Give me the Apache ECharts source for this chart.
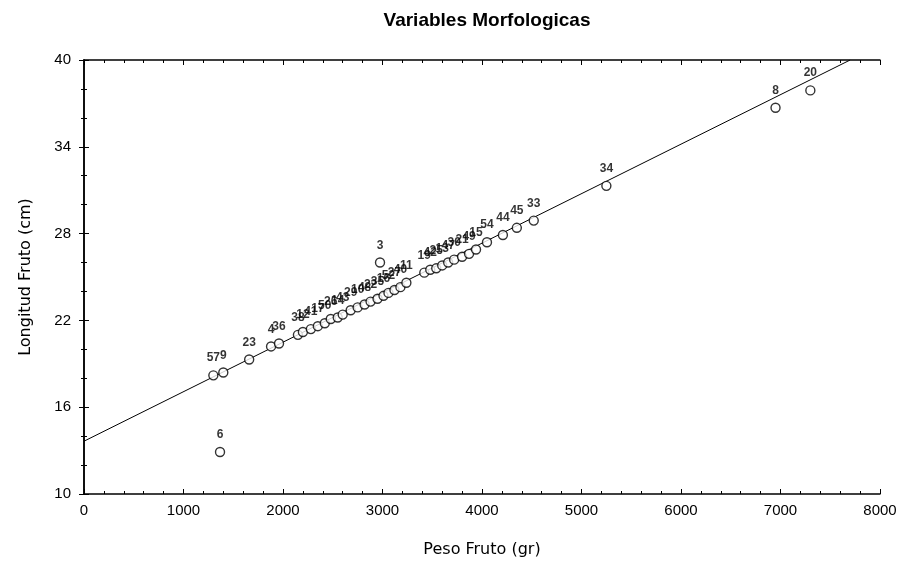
<!DOCTYPE html>
<html>
<head>
<meta charset="utf-8">
<script src="https://cdn.jsdelivr.net/npm/echarts@6/dist/echarts.min.js"></script>
<style>html,body{margin:0;padding:0;background:#fff}#c{width:900px;height:565px}</style>
</head>
<body>
<div id="c"></div>
<script>
// Peso Fruto (gr)
const pesoFruto = [1300,1400,1367,1660,1880,1960,2150,2200,2280,2350,2420,2480,2550,2600,2680,2750,2820,2880,2950,3010,3060,3120,3180,3240,2975,3420,3480,3540,3600,3660,3720,3800,3870,3940,4050,4210,4350,4520,5250,6950,7300];
// Longitud Fruto (cm)
const longitudFruto = [18.2,18.4,12.9,19.3,20.2,20.4,21.0,21.2,21.4,21.6,21.8,22.1,22.2,22.4,22.7,22.9,23.1,23.3,23.5,23.7,23.9,24.1,24.3,24.6,26.0,25.3,25.5,25.6,25.8,26.0,26.2,26.4,26.6,26.9,27.4,27.9,28.4,28.9,31.3,36.7,37.9];
// Case labels
const caseLabels = ['57','9','6','23','4','36','38','12','41','17','50','26','14','43','29','10','48','22','35','16','52','27','40','11','3','19','42','25','13','47','30','21','49','15','54','44','45','33','34','8','20'];
// Regression line endpoints
const fitX = [0,7700];
const fitY = [13.65,40];

const chart = echarts.init(document.getElementById('c'));
const FONT = '"Liberation Sans", Arial, sans-serif';
const NFONT = '"DejaVu Sans", sans-serif';
const tick = {show:true,inside:true,length:5,lineStyle:{color:'#000'}};
const minor = n => ({show:true,splitNumber:n,length:3,lineStyle:{color:'#000'}});
const line = {show:true,lineStyle:{color:'#000',width:1.5}};
chart.setOption({
  animation:false,
  title:{text:'Variables Morfologicas',left:482,top:6,textAlign:'center',
    textStyle:{fontFamily:FONT,fontSize:19,fontWeight:'bold',color:'#000'}},
  grid:{left:84,right:20,top:60,bottom:71},
  xAxis:[{type:'value',min:0,max:8000,interval:1000,
    name:'Peso Fruto (gr)',nameLocation:'middle',nameGap:48,
    nameTextStyle:{fontFamily:NFONT,fontSize:16,color:'#000'},
    axisLine:line,axisTick:tick,minorTick:minor(5),
    axisLabel:{fontFamily:FONT,fontSize:15,color:'#000',margin:9,formatter:v=>String(v)},
    splitLine:{show:false}},
    {type:'value',position:'top',min:0,max:8000,interval:1000,
    axisLine:line,axisTick:tick,minorTick:minor(5),
    axisLabel:{show:false},splitLine:{show:false}}],
  yAxis:[{type:'value',min:10,max:40,interval:6,
    name:'Longitud Fruto (cm)',nameLocation:'middle',nameGap:50,
    nameTextStyle:{fontFamily:NFONT,fontSize:16,color:'#000'},
    axisLine:line,axisTick:tick,minorTick:minor(3),
    axisLabel:{fontFamily:FONT,fontSize:15,color:'#000',margin:13},
    splitLine:{show:false}},
    {type:'value',position:'right',min:10,max:40,interval:6,
    axisLine:line,axisTick:tick,minorTick:minor(3),
    axisLabel:{show:false},splitLine:{show:false}}],
  series:[
    {type:'line',data:fitX.map((x,i)=>[x,fitY[i]]),symbol:'none',
     lineStyle:{color:'#000',width:1},z:1,silent:true},
    {type:'scatter',data:pesoFruto.map((x,i)=>({value:[x,longitudFruto[i]],name:caseLabels[i]})),
     symbol:'circle',symbolSize:9,
     itemStyle:{color:'#fff',borderColor:'#000',borderWidth:1.4},
     label:{show:true,position:'top',distance:6,formatter:p=>p.name,
       fontFamily:FONT,fontSize:12,fontWeight:'bold',color:'#000'},z:3}
  ]
});
</script>
</body>
</html>
